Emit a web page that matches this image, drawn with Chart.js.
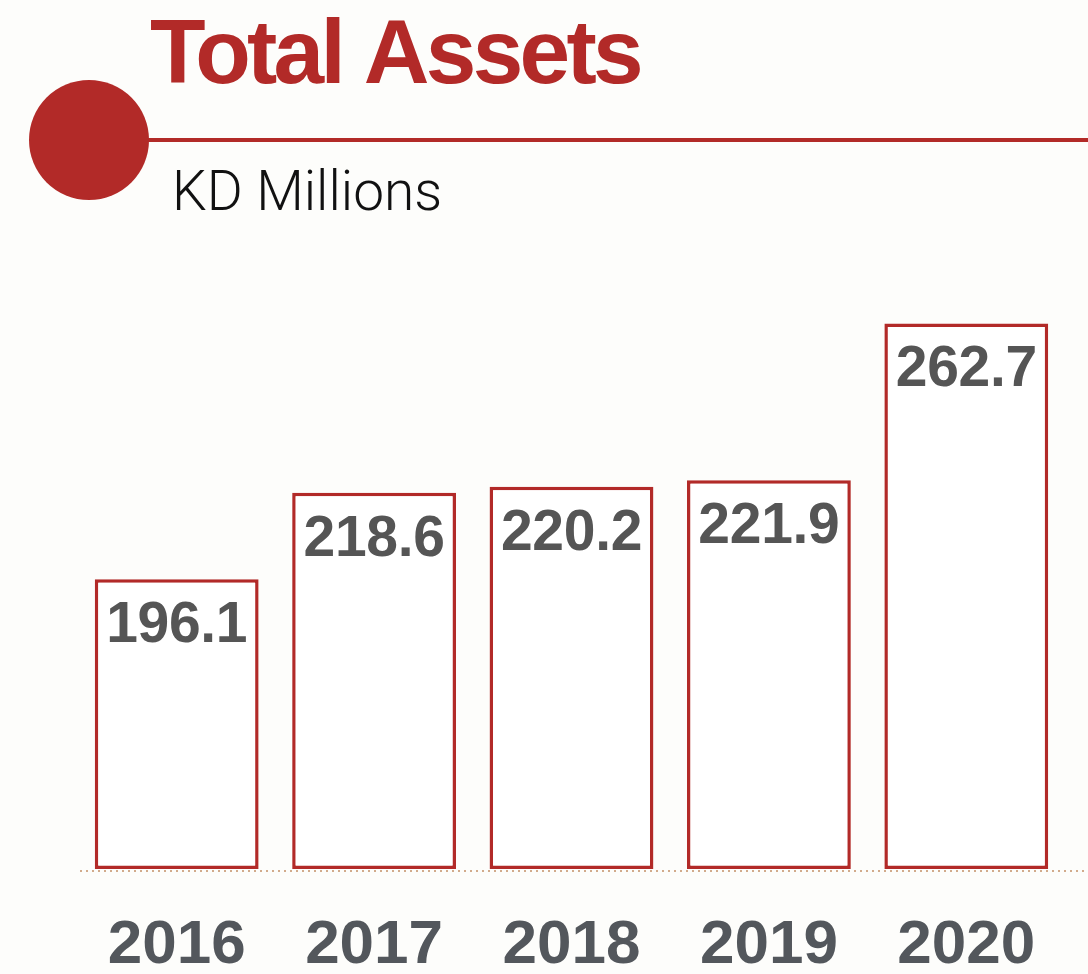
<!DOCTYPE html>
<html>
<head>
<meta charset="utf-8">
<script src="https://cdn.jsdelivr.net/npm/chart.js@4"></script>
<style>
  html, body { margin: 0; padding: 0; background: #fdfdfb; }
</style>
</head>
<body>
<canvas id="grafico" width="1088" height="974"></canvas>
<script>
const years = ['2016', '2017', '2018', '2019', '2020'];
const assets = [196.1, 218.6, 220.2, 221.9, 262.7];
const title = 'Total Assets';
const subtitle = 'KD Millions';

const red = '#b22a28';
const grey = '#555555';
const yMin = 120.7;
const yMax = 274;

// header: circle, rule, title and unit, plus the dotted base line
const header = {
  id: 'header',
  beforeDraw(chart) {
    const c = chart.ctx;
    const area = chart.chartArea;
    c.save();
    c.fillStyle = red;
    c.fillRect(140, 138, 948, 4);
    c.beginPath();
    c.arc(89, 140, 60, 0, Math.PI * 2);
    c.fill();

    c.textBaseline = 'alphabetic';
    c.textAlign = 'left';
    c.font = 'bold 91px "Liberation Sans", Arial, sans-serif';
    c.letterSpacing = '-3.7px';
    c.fillText(title, 150, 83);

    c.letterSpacing = '0px';
    c.fillStyle = '#111111';
    c.font = '300 55px Roboto, sans-serif';
    c.fillText(subtitle, 172, 210);

    c.strokeStyle = '#d2ab8c';
    c.lineWidth = 2;
    c.setLineDash([2, 4]);
    c.beginPath();
    c.moveTo(80, area.bottom + 2);
    c.lineTo(1088, area.bottom + 2);
    c.stroke();
    c.restore();
  }
};

// values written inside the top of each bar
const valueLabels = {
  id: 'valueLabels',
  afterDatasetsDraw(chart) {
    const c = chart.ctx;
    const meta = chart.getDatasetMeta(0);
    c.save();
    c.fillStyle = grey;
    c.font = 'bold 57px "Liberation Sans", Arial, sans-serif';
    c.letterSpacing = '-0.3px';
    c.textAlign = 'center';
    c.textBaseline = 'alphabetic';
    meta.data.forEach((bar, i) => {
      c.fillText(assets[i].toFixed(1), bar.x, bar.y + 63);
    });
    c.restore();
  }
};

const ctx = document.getElementById('grafico').getContext('2d');
new Chart(ctx, {
  type: 'bar',
  data: {
    labels: years,
    datasets: [{
      data: assets,
      base: yMin,
      backgroundColor: '#ffffff',
      borderColor: red,
      borderWidth: 3.5,
      borderSkipped: false,
      barPercentage: 0.83,
      categoryPercentage: 1
    }]
  },
  options: {
    responsive: false,
    devicePixelRatio: 1,
    animation: false,
    layout: { padding: { top: 280, left: 78, right: 23, bottom: 0 } },
    plugins: {
      legend: { display: false },
      tooltip: { enabled: false }
    },
    scales: {
      x: {
        grid: { display: false, drawTicks: false },
        border: { display: false },
        ticks: {
          color: '#53575c',
          padding: 46,
          font: { family: '"Liberation Sans", Arial, sans-serif', size: 62, weight: 'bold', lineHeight: 1 }
        },
        afterFit: s => { s.height = 105; }
      },
      y: {
        display: false,
        min: yMin,
        max: yMax
      }
    }
  },
  plugins: [header, valueLabels]
});
</script>
</body>
</html>
